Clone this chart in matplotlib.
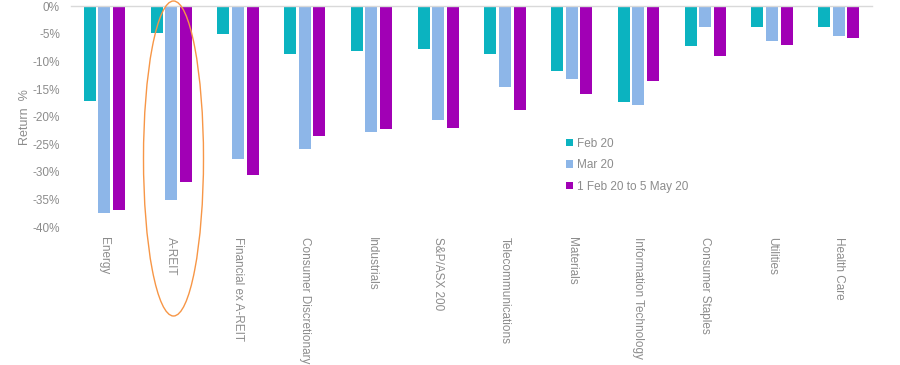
import numpy as np
import matplotlib
matplotlib.use('Agg')
import matplotlib.pyplot as plt
from matplotlib.patches import Ellipse
from matplotlib.ticker import FuncFormatter

plt.rcParams['font.family'] = ['Liberation Sans', 'DejaVu Sans']

# --- Data (return %) ---
sectors = ['Energy', 'A-REIT', 'Financial ex A-REIT', 'Consumer Discretionary',
           'Industrials', 'S&P/ASX 200', 'Telecommunications', 'Materials',
           'Information Technology', 'Consumer Staples', 'Utilities', 'Health Care']
feb20 = [-17.1, -4.8, -5.0, -8.6, -8.2, -7.7, -8.6, -11.7, -17.3, -7.2, -3.75, -3.75]
mar20 = [-37.4, -35.1, -27.7, -25.8, -22.8, -20.6, -14.6, -13.2, -17.9, -3.75, -6.3, -5.4]
feb_to_may = [-36.9, -31.8, -30.5, -23.6, -22.2, -22.0, -18.8, -15.9, -13.5, -9.0, -7.0, -5.7]
series_names = ['Feb 20', 'Mar 20', '1 Feb 20 to 5 May 20']
colors = ['#0bb3c0', '#8db6e8', '#a100b5']

fig = plt.figure(figsize=(9, 3.65), dpi=100)
ax = fig.add_axes([0.079, 0.378, 0.890, 0.605])

x = np.arange(len(sectors))
step = 0.22
width = 0.18
for i, (vals, name, c) in enumerate(zip([feb20, mar20, feb_to_may], series_names, colors)):
    ax.bar(x + (i - 1) * step, vals, width=width, color=c, label=name, zorder=2)

ax.set_xlim(-0.5, len(sectors) - 0.5)
ax.set_ylim(-40, 0)
ax.set_yticks(np.arange(-40, 1, 5))
ax.yaxis.set_major_formatter(FuncFormatter(lambda v, p: f'{v:.0f}%'))
ax.set_xticks(x)
ax.set_xticklabels(sectors, rotation=-90, va='top', ha='center')
ax.tick_params(axis='both', length=0, colors='#8c8c8c', labelsize=8.5)
ax.tick_params(axis='x', pad=7)
ax.tick_params(axis='y', pad=8)
for s in ['left', 'right', 'bottom']:
    ax.spines[s].set_visible(False)
ax.spines['top'].set_color('#d9d9d9')
ax.spines['top'].set_linewidth(1)
ax.set_ylabel('Return  %', color='#8c8c8c', fontsize=9, labelpad=1)

leg = ax.legend(loc='upper left', bbox_to_anchor=(0.612, 0.425), frameon=False,
                fontsize=8.5, handlelength=0.6, handleheight=0.6, handletextpad=0.3,
                labelspacing=0.8, borderaxespad=0)
for t in leg.get_texts():
    t.set_color('#8c8c8c')

# orange ellipse highlighting A-REIT
ell = Ellipse((173.5 / 900, 1 - 158.5 / 365), 60 / 900, 315 / 365,
              transform=fig.transFigure, fill=False, edgecolor='#f79646',
              linewidth=1.0, zorder=5)
fig.patches.append(ell)

fig.savefig('out.png', dpi=100)
